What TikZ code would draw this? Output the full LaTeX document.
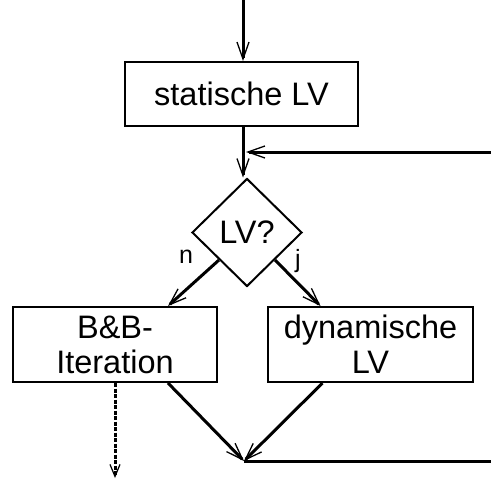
\documentclass[tikz,border=0pt]{standalone}
\usepackage{fontspec}
\setmainfont{Liberation Sans}
\usetikzlibrary{arrows.meta,shapes.geometric}
\begin{document}
\begin{tikzpicture}[x=1pt,y=-1pt,
  box/.style={draw,line width=2pt,inner sep=0pt,font=\fontsize{32.5}{35}\selectfont,align=center},
  dec/.style={draw,diamond,line width=2pt,inner sep=0pt,minimum width=110pt,minimum height=108pt,font=\fontsize{32.5}{35}\selectfont},
  tip/.style={-{Straight Barb[length=17pt,width=12pt,line width=1.3pt]}},
  flow/.style={line width=3pt,tip},
  plain/.style={line width=3pt},
  hatch/.style={line width=3pt,dash pattern=on 4pt off 1.5pt,-{Straight Barb[length=12pt,width=10pt,line width=1.2pt]}},
  lbl/.style={font=\fontsize{25}{27}\selectfont,inner sep=0pt}]
\useasboundingbox (0,0) rectangle (491,482);
\node[box,minimum width=233pt,minimum height=64pt] (st) at (241.5,94) {statische LV};
\node[dec] (dec) at (247,232.5) {LV?};
\node[box,minimum width=204pt,minimum height=75pt] (bb) at (115,344.5) {B\&B-\\Iteration};
\node[box,minimum width=205pt,minimum height=75pt] (dyn) at (370.5,344.5) {dynamische\\LV};
\node[lbl] (n) at (186,257) {n};
\node[lbl] (j) at (298,261) {j};
\coordinate (top) at (243,0);
\coordinate (fb) at (491,152);
\coordinate (join) at (244,461);
\coordinate (out) at (491,461);
\coordinate (hb) at (115,478);
\draw[flow] (top) -- (top |- st.north);
\draw[flow] (st.south -| top) -- (dec.north -| top);
\draw[flow] (fb) -- ([xshift=3pt]fb -| top);
\draw[flow] (dec.south west) -- ([xshift=53pt]bb.north);
\draw[flow] (dec.south east) -- ([xshift=-50pt]dyn.north);
\draw[flow] ([xshift=53pt]bb.south) -- (join);
\draw[flow] ([xshift=-48pt]dyn.south) -- (join);
\draw[plain] (join) -- (out);
\draw[hatch] (bb.south) -- (hb);
\end{tikzpicture}
\end{document}
